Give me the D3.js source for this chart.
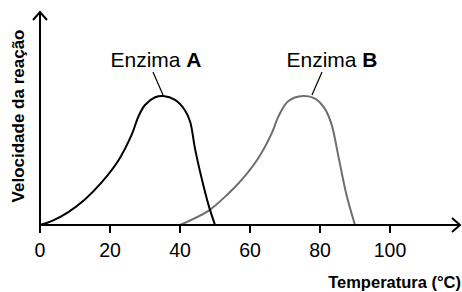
<!DOCTYPE html>
<html>
<head>
<meta charset="utf-8">
<script src="https://cdn.jsdelivr.net/npm/d3@7"></script>
<style>
  body { margin: 0; background: #fff; }
  svg { display: block; font-family: "Liberation Sans", Arial, sans-serif; }
</style>
</head>
<body>
<div id="chart"></div>
<script>

var tempTicks = [0, 20, 40, 60, 80, 100];

var tempA = [0, 3.3, 8.1, 12.9, 17.6, 22.4, 26.2, 28.1, 30, 32.9, 35.2, 38.6, 41.4, 42.9, 44.3, 46.2, 48.1, 50];
var velA  = [0, 3, 10, 20, 33, 50, 70, 84, 93, 99, 100, 97, 89, 80, 59, 36, 16, 0];

var tempB = [40, 48.1, 52.9, 57.6, 62.4, 66.2, 68.1, 70.9, 75.2, 78.6, 81.4, 83.3, 85.2, 87.6, 90];
var velB  = [0, 11, 22, 35, 52, 71, 84, 96, 100, 98, 90, 78, 54, 23, 0];

var labels = ["Enzima ", "A", "B"];

var w = 462, h = 292;

var x = d3.scaleLinear().domain([0, 100]).range([40, 390]);
var y = d3.scaleLinear().domain([0, 100]).range([225, 96]);

var svg = d3.select("#chart").append("svg")
    .attr("width", w)
    .attr("height", h);

var line = d3.line()
    .x(function(d) { return x(d[0]); })
    .y(function(d) { return y(d[1]); })
    .curve(d3.curveCatmullRom.alpha(0.5));

// curves
svg.append("path")
    .datum(d3.zip(tempB, velB))
    .attr("d", line)
    .attr("fill", "none")
    .attr("stroke", "#6e6e6e")
    .attr("stroke-width", 2);

svg.append("path")
    .datum(d3.zip(tempA, velA))
    .attr("d", line)
    .attr("fill", "none")
    .attr("stroke", "#000")
    .attr("stroke-width", 2);

// axes with arrow heads
var axis = svg.append("g")
    .attr("fill", "none")
    .attr("stroke", "#000")
    .attr("stroke-width", 2);

axis.append("line")
    .attr("x1", x(0)).attr("y1", y(0) + 8)
    .attr("x2", x(0)).attr("y2", 12);
axis.append("path")
    .attr("d", "M" + (x(0) - 7) + ",20L" + x(0) + ",12L" + (x(0) + 7) + ",20");

axis.append("line")
    .attr("x1", x(0)).attr("y1", y(0))
    .attr("x2", 460).attr("y2", y(0));
axis.append("path")
    .attr("d", "M452," + (y(0) - 7) + "L460," + y(0) + "L452," + (y(0) + 7));

axis.selectAll(".tick")
    .data(tempTicks.slice(1))
    .enter().append("line")
    .attr("x1", function(d) { return x(d); })
    .attr("x2", function(d) { return x(d); })
    .attr("y1", y(0))
    .attr("y2", y(0) + 8);

svg.selectAll(".ticklabel")
    .data(tempTicks)
    .enter().append("text")
    .attr("x", function(d) { return x(d); })
    .attr("y", 257)
    .attr("text-anchor", "middle")
    .style("font-size", "19.5px")
    .text(function(d) { return d; });

// axis titles
svg.append("text")
    .attr("x", 461)
    .attr("y", 288)
    .attr("text-anchor", "end")
    .style("font-size", "16.5px")
    .style("font-weight", "bold")
    .text("Temperatura (°C)");

svg.append("text")
    .attr("transform", "translate(24,116) rotate(-90)")
    .attr("text-anchor", "middle")
    .style("font-size", "17px")
    .style("font-weight", "bold")
    .text("Velocidade da reação");

// enzyme labels with pointer lines
function enzymeLabel(cx, letter, x1, y1, x2, y2) {
    svg.append("line")
        .attr("x1", x1).attr("y1", y1)
        .attr("x2", x2).attr("y2", y2)
        .attr("stroke", "#000")
        .attr("stroke-width", 1.2);
    var t = svg.append("text")
        .attr("x", cx)
        .attr("y", 67)
        .attr("text-anchor", "middle")
        .style("font-size", "21px");
    t.append("tspan").text(labels[0]);
    t.append("tspan").style("font-weight", "bold").text(letter);
}

enzymeLabel(156, labels[1], 153, 72, 163, 95);
enzymeLabel(332, labels[2], 322, 72, 312, 95);

</script>
</body>
</html>
